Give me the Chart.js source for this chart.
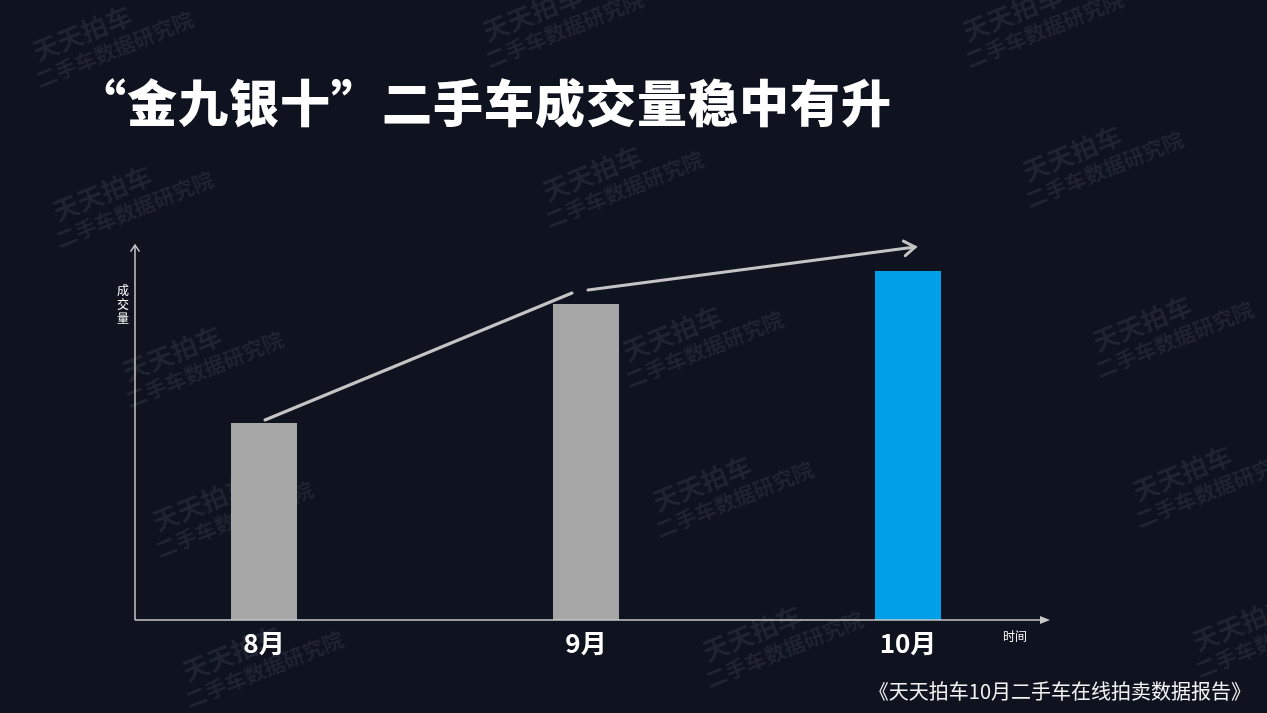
<!DOCTYPE html>
<html>
<head>
<meta charset="utf-8">
<script src="https://cdn.jsdelivr.net/npm/chart.js@4"></script>
<style>
  body { margin: 0; background: #0f1320; overflow: hidden; }
  #wrap { position: relative; width: 1267px; height: 713px; font-family: "Noto Sans CJK SC", "Noto Sans", sans-serif; }
  #myChart { position: absolute; left: 0; top: 0; }
  .title { position: absolute; left: 76px; top: 64px; color: #fff; font-size: 50px; font-weight: 900; white-space: nowrap; letter-spacing: 1px; }
  .footer { position: absolute; right: 16px; top: 676px; color: #f2f2f2; font-size: 20px; white-space: nowrap; }
  .wm { position: absolute; color: rgba(200, 200, 210, 0.09); transform: rotate(-22deg); transform-origin: left top; font-weight: 700; white-space: nowrap; line-height: 1.2; }
  .wm .a { font-size: 26px; margin-left: 8px; }
  .wm .b { font-size: 21px; }
</style>
</head>
<body>
<div id="wrap">
  <div id="marks"></div>
  <canvas id="myChart" width="1267" height="713"></canvas>
  <div class="title">“金九银十”二手车成交量稳中有升</div>
  <div class="footer">《天天拍车10月二手车在线拍卖数据报告》</div>
</div>
<script>
const months = ['8月', '9月', '10月']
const volumes = [197, 316, 349]
const barColors = ['#a6a6a6', '#a6a6a6', '#00a0e9']
const yMax = 375

// watermark spots
const markSpots = [[20, 40], [470, 20], [950, 20], [40, 200], [530, 180], [1010, 160],
  [110, 360], [610, 340], [1080, 330], [140, 510], [640, 490], [1120, 480], [170, 660], [690, 640], [1180, 630]]
const marks = document.getElementById('marks')
markSpots.forEach(p => {
  let d = document.createElement('div')
  d.className = 'wm'
  d.style.left = p[0] + 'px'
  d.style.top = p[1] + 'px'
  d.innerHTML = '<div class="a">天天拍车</div><div class="b">二手车数据研究院</div>'
  marks.appendChild(d)
})

function arrowHead(ctx, x, y, ang, len) {
  ctx.beginPath()
  ctx.moveTo(x - len * Math.cos(ang - 0.6), y - len * Math.sin(ang - 0.6))
  ctx.lineTo(x, y)
  ctx.lineTo(x - len * Math.cos(ang + 0.6), y - len * Math.sin(ang + 0.6))
  ctx.stroke()
}

const decor = {
  id: 'decor',
  afterDatasetsDraw(chart) {
    const ctx = chart.ctx
    const a = chart.chartArea
    const ox = a.left + 32
    ctx.save()
    // axes
    ctx.strokeStyle = '#c8c8c8'
    ctx.lineWidth = 1.5
    ctx.beginPath()
    ctx.moveTo(ox, a.bottom)
    ctx.lineTo(a.right - 29, a.bottom)
    ctx.moveTo(ox, a.bottom)
    ctx.lineTo(ox, a.top)
    ctx.stroke()
    ctx.fillStyle = '#c8c8c8'
    ctx.beginPath()
    ctx.moveTo(a.right - 29, a.bottom - 4)
    ctx.lineTo(a.right - 19, a.bottom)
    ctx.lineTo(a.right - 29, a.bottom + 4)
    ctx.fill()
    arrowHead(ctx, ox, a.top, -Math.PI / 2, 8)
    // axis names
    ctx.fillStyle = '#ffffff'
    ctx.font = '12px "Noto Sans CJK SC"'
    ctx.textAlign = 'center'
    ctx.textBaseline = 'middle'
    ;['成', '交', '量'].forEach((c, i) => ctx.fillText(c, ox - 12, 290 + i * 14))
    ctx.fillText('时间', a.right - 54, 636)
    // trend arrow
    const bars = chart.getDatasetMeta(0).data
    ctx.strokeStyle = '#c4c4c4'
    ctx.lineWidth = 3
    ctx.lineCap = 'round'
    ctx.beginPath()
    ctx.moveTo(bars[0].x + 1, bars[0].y - 3)
    ctx.lineTo(bars[1].x - 14, bars[1].y - 11)
    ctx.moveTo(bars[1].x + 2, bars[1].y - 14)
    const ex = bars[2].x + 7, ey = bars[2].y - 24
    ctx.lineTo(ex, ey)
    ctx.stroke()
    const ang = Math.atan2(ey - (bars[1].y - 14), ex - (bars[1].x + 2))
    arrowHead(ctx, ex, ey, ang, 13)
    ctx.restore()
  }
}

const ctx = document.getElementById('myChart').getContext('2d')
const myChart = new Chart(ctx, {
  type: 'bar',
  data: {
    labels: months,
    datasets: [{
      data: volumes,
      backgroundColor: barColors,
      barPercentage: 1,
      categoryPercentage: 0.205
    }]
  },
  options: {
    responsive: false,
    animation: false,
    layout: { padding: { left: 103, right: 198, top: 245, bottom: 0 } },
    plugins: { legend: { display: false }, tooltip: { enabled: false } },
    scales: {
      x: {
        grid: { display: false },
        border: { display: false },
        ticks: { color: '#ffffff', font: { size: 26, weight: 'bold', family: '"Noto Sans CJK SC"' }, padding: 0 },
        afterFit: (scale) => { scale.height = 93 }
      },
      y: { display: false, min: 0, max: yMax }
    }
  },
  plugins: [decor]
})
</script>
</body>
</html>
